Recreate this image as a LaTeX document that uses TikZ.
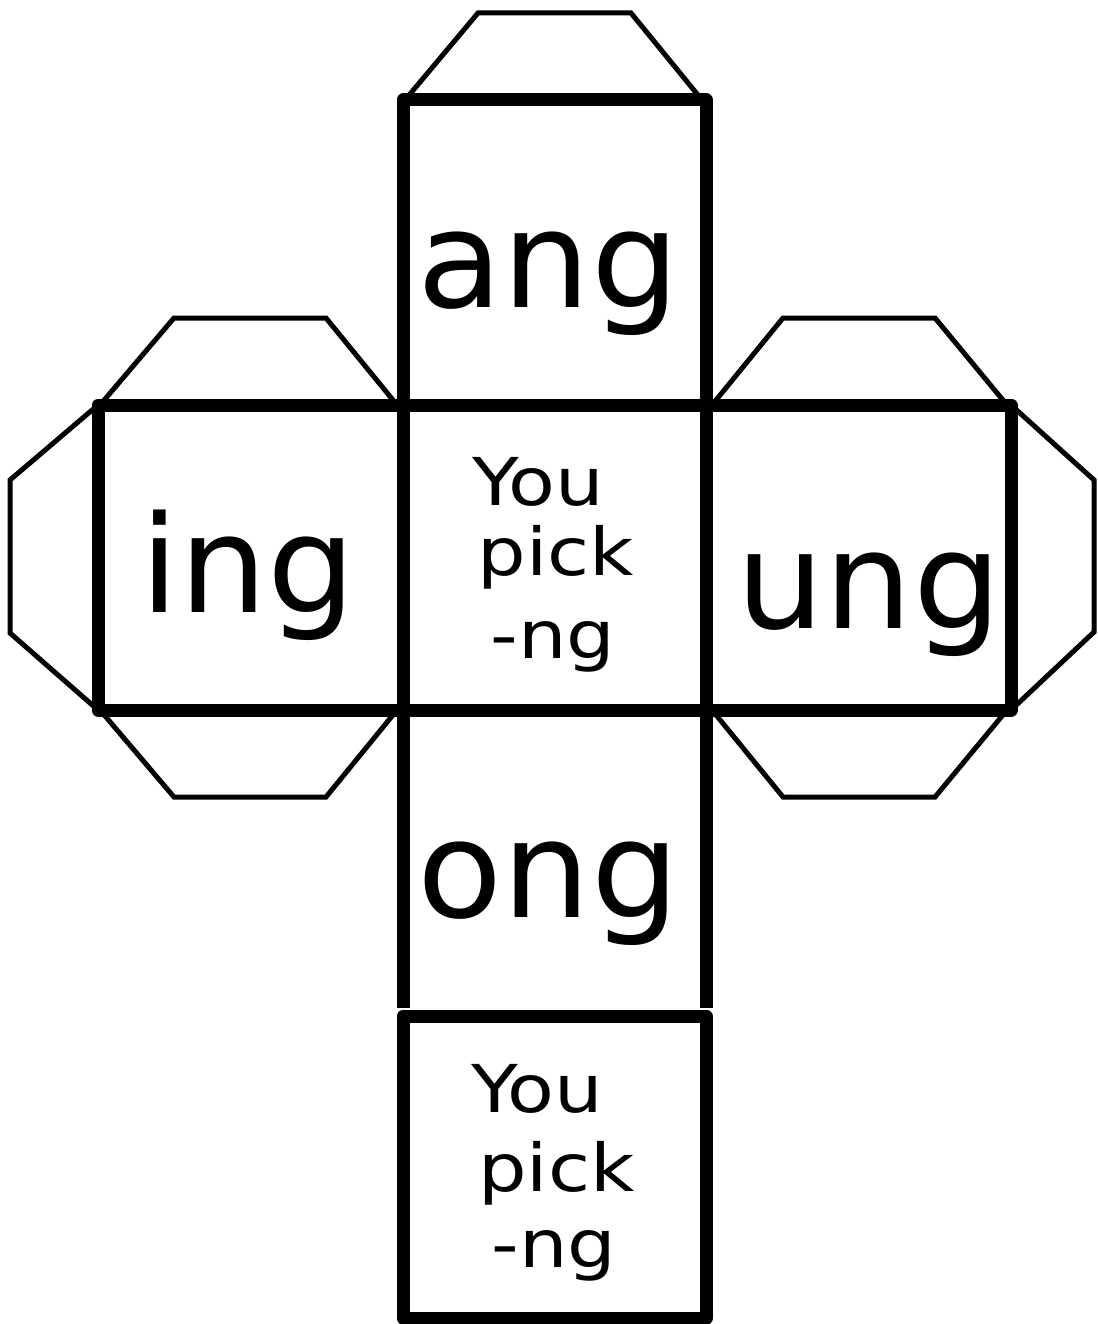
\documentclass[tikz,border=0pt]{standalone}
\usepackage{fontspec}
\newfontfamily\bigfont[FakeStretch=1.03]{DejaVu Sans}
\newfontfamily\smallfont[FakeStretch=1.16]{DejaVu Sans}
\tikzset{
  thickln/.style={line width=13pt, line join=round, draw=black},
  thinln/.style={line width=5pt, line join=miter, draw=black},
  bigtxt/.style={anchor=base, inner sep=0pt, font=\bigfont\fontsize{135}{135}\selectfont},
  smalltxt/.style={anchor=base, inner sep=0pt, font=\smallfont\fontsize{66}{66}\selectfont}
}
\begin{document}
\begin{tikzpicture}[x=1pt,y=-1pt]
\useasboundingbox (0,0) rectangle (1097,1324);
% tabs
\draw[thinln] (405,100) -- (478,13) -- (631,13) -- (702,100);
\draw[thinln] (100,405) -- (174,318) -- (326,318) -- (397,405);
\draw[thinln] (100,710) -- (174,797) -- (326,797) -- (397,710);
\draw[thinln] (98,405) -- (10,480) -- (10,633) -- (98,710);
\draw[thinln] (712,405) -- (783,318) -- (935,318) -- (1007,405);
\draw[thinln] (712,710) -- (783,797) -- (935,797) -- (1007,710);
\draw[thinln] (1011,405) -- (1094,480) -- (1094,632) -- (1011,710);
% faces
\draw[thickln] (403,100) rectangle (706,405);
\draw[thickln] (98,405) rectangle (403,710);
\draw[thickln] (403,405) rectangle (706,710);
\draw[thickln] (706,405) rectangle (1011,710);
\draw[thickln, line cap=butt] (403,1008) -- (403,710) -- (706,710) -- (706,1008);
\draw[thickln] (403,1016) rectangle (706,1318);
% labels
\node[bigtxt] (ang) at (548.5,307) {ang};
\node[bigtxt] (ing) at (248.5,612) {ing};
\node[bigtxt] (ung) at (869,628) {ung};
\node[bigtxt] (ong) at (548.5,917) {ong};
\node[smalltxt] (you1) at (538,505) {You};
\node[smalltxt] (pick1) at (556,575) {pick};
\node[smalltxt] (ng1) at (553,658) {-ng};
\node[smalltxt] (you2) at (537,1112) {You};
\node[smalltxt] (pick2) at (556.5,1191) {pick};
\node[smalltxt] (ng2) at (554,1267) {-ng};
\end{tikzpicture}
\end{document}
